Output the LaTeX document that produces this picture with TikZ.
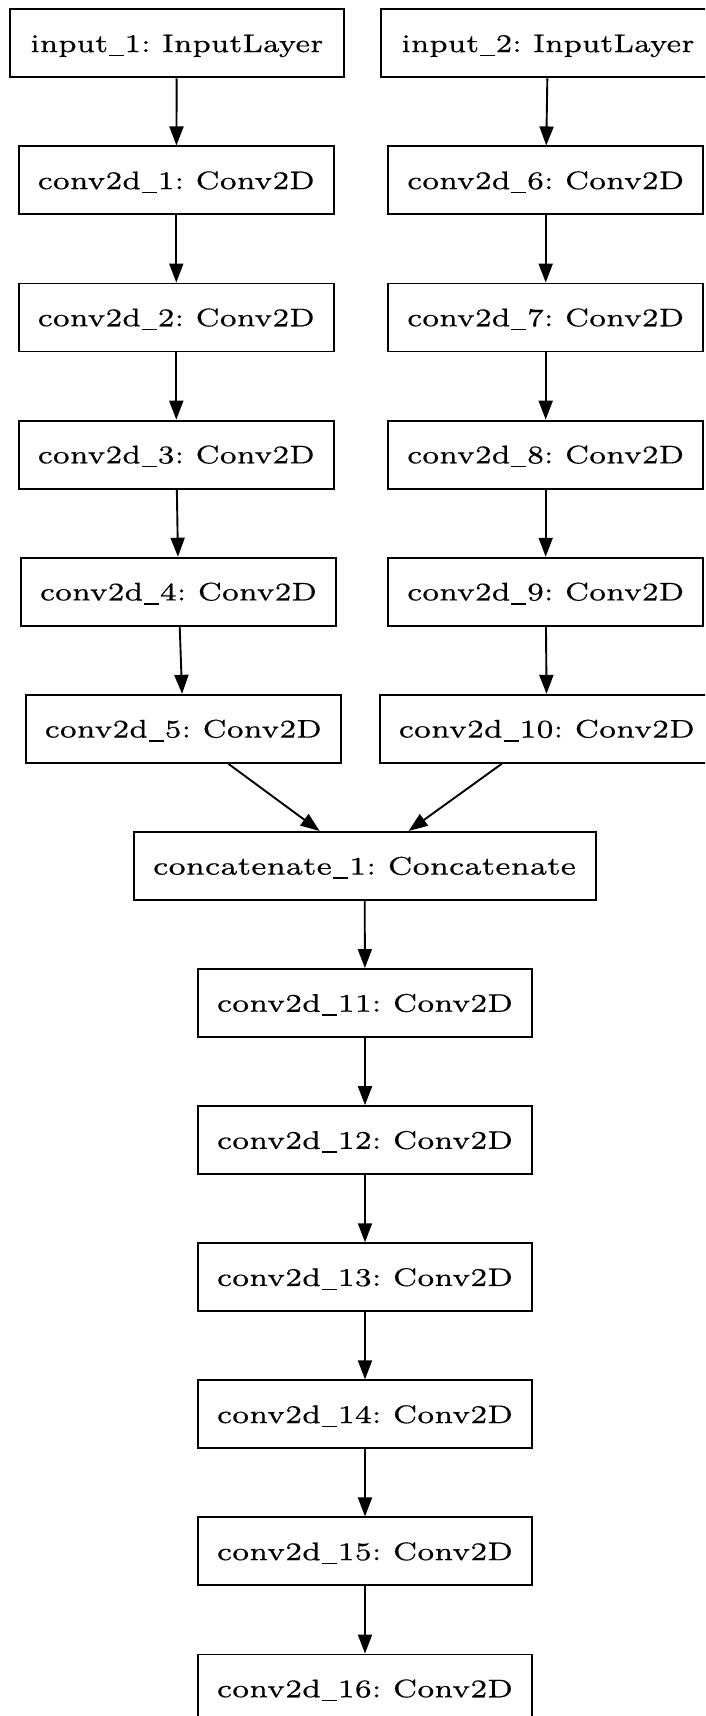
\documentclass[tikz,border=0pt]{standalone}
\usetikzlibrary{arrows.meta}

% serif face for the layer labels, each label set to its measured width
\font\labelfont="[lmroman7-regular]:+tlig;embolden=0.4" at 25.5pt
\newcommand{\us}{\kern0.03em\rule[-0.16em]{0.5em}{0.06em}\kern0.03em}
\newcommand{\lbl}[2]{\resizebox{#1}{\height}{\labelfont\frenchspacing #2}}

\tikzset{
  layer/.style={draw=black, line width=1.9pt, rectangle, minimum height=68pt,
    inner sep=0pt, text height=17.5pt, text depth=0pt},
  narrow/.style={layer, minimum width=315.3pt},
  wide/.style={layer, minimum width=333.9pt},
  flow/.style={draw=black, line width=1.9pt, -{Triangle[length=19pt,width=14pt]}},
}

\begin{document}
\begin{tikzpicture}[x=1pt,y=1pt]
\useasboundingbox (0,0) rectangle (705,-1716);
\clip (0,0) rectangle (705,-1716);

% left branch
\node[wide]   (in1) at (176.8,-43.3)  {\lbl{293pt}{input\us1: InputLayer}};
\node[narrow] (c1)  at (176.3,-180.4) {\lbl{277pt}{conv2d\us1: Conv2D}};
\node[narrow] (c2)  at (176.3,-317.5) {\lbl{277pt}{conv2d\us2: Conv2D}};
\node[narrow] (c3)  at (176.3,-454.6) {\lbl{277pt}{conv2d\us3: Conv2D}};
\node[narrow] (c4)  at (178.5,-591.7) {\lbl{277pt}{conv2d\us4: Conv2D}};
\node[narrow] (c5)  at (183.3,-728.8) {\lbl{277pt}{conv2d\us5: Conv2D}};

% right branch
\node[wide]   (in2) at (547.9,-43.3)  {\lbl{293pt}{input\us2: InputLayer}};
\node[narrow] (c6)  at (545.7,-180.4) {\lbl{277pt}{conv2d\us6: Conv2D}};
\node[narrow] (c7)  at (545.7,-317.5) {\lbl{277pt}{conv2d\us7: Conv2D}};
\node[narrow] (c8)  at (545.7,-454.6) {\lbl{277pt}{conv2d\us8: Conv2D}};
\node[narrow] (c9)  at (545.7,-591.7) {\lbl{277pt}{conv2d\us9: Conv2D}};
\node[wide]   (c10) at (546.8,-728.8) {\lbl{296pt}{conv2d\us10: Conv2D}};

% merge and trunk
\node[layer, minimum width=461.9pt] (cat) at (364.6,-865.9) {\lbl{423pt}{concatenate\us1: Concatenate}};
\node[wide] (c11) at (365.0,-1003.0) {\lbl{296pt}{conv2d\us11: Conv2D}};
\node[wide] (c12) at (365.0,-1140.1) {\lbl{296pt}{conv2d\us12: Conv2D}};
\node[wide] (c13) at (365.0,-1277.2) {\lbl{296pt}{conv2d\us13: Conv2D}};
\node[wide] (c14) at (365.0,-1414.3) {\lbl{296pt}{conv2d\us14: Conv2D}};
\node[wide] (c15) at (365.0,-1551.4) {\lbl{296pt}{conv2d\us15: Conv2D}};
\node[wide] (c16) at (365.0,-1688.5) {\lbl{296pt}{conv2d\us16: Conv2D}};

% connectors
\draw[flow] (in1) -- (c1);
\draw[flow] (c1) -- (c2);
\draw[flow] (c2) -- (c3);
\draw[flow] (c3) -- (c4);
\draw[flow] (c4) -- (c5);
\draw[flow] (in2) -- (c6);
\draw[flow] (c6) -- (c7);
\draw[flow] (c7) -- (c8);
\draw[flow] (c8) -- (c9);
\draw[flow] (c9) -- (c10);
\draw[flow] ([xshift=45pt]c5.south) -- ([xshift=-45pt]cat.north);
\draw[flow] ([xshift=-45pt]c10.south) -- ([xshift=44pt]cat.north);
\draw[flow] (cat) -- (c11);
\draw[flow] (c11) -- (c12);
\draw[flow] (c12) -- (c13);
\draw[flow] (c13) -- (c14);
\draw[flow] (c14) -- (c15);
\draw[flow] (c15) -- (c16);
\end{tikzpicture}
\end{document}
